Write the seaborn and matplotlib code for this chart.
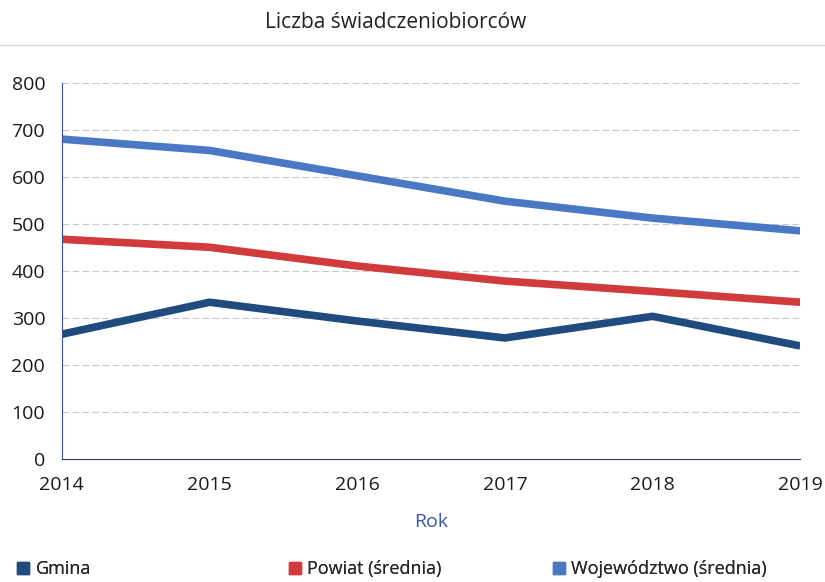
import numpy as np
import pandas as pd
import matplotlib
matplotlib.use("Agg")
import matplotlib.pyplot as plt
import seaborn as sns
from matplotlib.lines import Line2D

years = [2014, 2015, 2016, 2017, 2018, 2019]
gmina = [266, 334, 294, 258, 304, 241]
powiat = [468, 451, 411, 379, 357, 334]
wojewodztwo = [681, 657, 603, 549, 513, 486]

series_names = ["Gmina", "Powiat (średnia)", "Województwo (średnia)"]
colors = ["#1f4b7e", "#d13b3b", "#4a78c4"]

df = pd.DataFrame({
    "Rok": years * 3,
    "Wartość": gmina + powiat + wojewodztwo,
    "Seria": np.repeat(series_names, len(years)),
})

sns.set_style("white")
plt.rcParams["font.family"] = ["Open Sans", "DejaVu Sans"]

fig = plt.figure(figsize=(8.25, 5.82), dpi=100)
ax = fig.add_axes([0.075, 0.211, 0.895, 0.646])

sns.lineplot(data=df, x="Rok", y="Wartość", hue="Seria",
             palette=dict(zip(series_names, colors)), linewidth=5.5,
             legend=False, ax=ax, solid_capstyle="butt")

ax.set_xlim(2014, 2019)
ax.set_ylim(0, 800)
ax.set_yticks(range(0, 801, 100))
ax.set_xticks(years)
ax.yaxis.grid(True, color="#c8c8c8", linestyle=(0, (6, 3)), linewidth=0.8)
ax.xaxis.grid(False)

for side in ["top", "right"]:
    ax.spines[side].set_visible(False)
ax.spines["left"].set_color("#3a4fa8")
ax.spines["left"].set_linewidth(0.8)
ax.spines["bottom"].set_color("#333a5a")
ax.spines["bottom"].set_linewidth(0.8)

ax.tick_params(axis="y", length=0, pad=12, labelsize=14, labelcolor="#1a1a1a")
ax.tick_params(axis="x", length=0, pad=12, labelsize=14, labelcolor="#1a1a1a")

ax.set_xlabel("Rok", color="#3a56a8", fontsize=14, labelpad=14)
ax.set_ylabel("")

fig.text(0.48, 0.962, "Liczba świadczeniobiorców", ha="center", va="center",
         fontsize=15, color="#222222")
fig.add_artist(Line2D([0.0, 1.0], [0.922, 0.922], color="#d8d8d8", linewidth=1))

# one legend per entry, the reference spaces them unevenly
legend_x = [0.004, 0.333, 0.653]
for name, c, lx in zip(series_names, colors, legend_x):
    h = Line2D([0], [0], marker="s", linestyle="none", markersize=9,
               markerfacecolor=c, markeredgecolor=c)
    leg = fig.legend([h], [name], loc="lower left", bbox_to_anchor=(lx, -0.012),
                     frameon=False, fontsize=13, handletextpad=0.2,
                     handlelength=1.0, borderaxespad=0.2)
    fig.add_artist(leg)

fig.savefig("out.png", dpi=100)
plt.close(fig)
